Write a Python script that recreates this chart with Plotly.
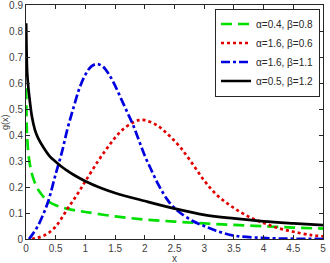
import plotly.graph_objects as go

# alpha=0.4, beta=0.8 (green, dashed)
green_x = [0.003, 0.01, 0.02, 0.05, 0.1, 0.18, 0.25, 0.35, 0.5, 0.7, 1.0, 1.5, 2.0, 2.5, 3.0, 3.5, 4.0, 4.5, 5.0]
green_y = [0.58, 0.46, 0.39, 0.31, 0.25, 0.2, 0.175, 0.149, 0.13, 0.116, 0.104, 0.087, 0.075, 0.067, 0.06, 0.054, 0.049, 0.044, 0.04]

# alpha=1.6, beta=0.6 (red, dotted)
red_x = [0.1, 0.2, 0.3, 0.4, 0.5, 0.6, 0.7, 0.8, 0.9, 1.0, 1.2, 1.4, 1.6, 1.8, 1.9, 2.0, 2.2, 2.4, 2.6, 2.8, 3.0, 3.2, 3.4, 3.6, 3.8, 4.0, 4.2, 4.5, 4.8, 5.0]
red_y = [0.0, 0.005, 0.013, 0.027, 0.048, 0.08, 0.117, 0.15, 0.185, 0.222, 0.295, 0.36, 0.415, 0.448, 0.457, 0.457, 0.438, 0.4, 0.352, 0.29, 0.225, 0.172, 0.135, 0.105, 0.08, 0.062, 0.045, 0.028, 0.015, 0.01]

# alpha=1.6, beta=1.1 (blue, dash-dot)
blue_x = [0.05, 0.1, 0.2, 0.3, 0.38, 0.5, 0.6, 0.7, 0.8, 0.9, 1.0, 1.1, 1.2, 1.3, 1.4, 1.5, 1.6, 1.7, 1.8, 1.9, 2.0, 2.1, 2.2, 2.3, 2.4, 2.5, 2.6, 2.8, 3.0, 3.2, 3.5, 4.0, 4.5, 5.0]
blue_y = [0.0, 0.015, 0.05, 0.1, 0.149, 0.25, 0.33, 0.425, 0.505, 0.58, 0.632, 0.664, 0.673, 0.662, 0.632, 0.59, 0.54, 0.49, 0.44, 0.38, 0.32, 0.27, 0.222, 0.18, 0.145, 0.12, 0.1, 0.07, 0.05, 0.032, 0.013, 0.004, 0.001, 0.0]

# alpha=0.5, beta=1.2 (black, solid)
black_x = [0.003, 0.01, 0.02, 0.04, 0.07, 0.1, 0.15, 0.2, 0.3, 0.4, 0.5, 0.6, 0.7, 0.8, 1.0, 1.25, 1.5, 2.0, 2.5, 3.0, 3.5, 4.0, 4.5, 5.0]
black_y = [0.83, 0.72, 0.64, 0.58, 0.52, 0.47, 0.42, 0.39, 0.35, 0.318, 0.297, 0.278, 0.262, 0.247, 0.222, 0.197, 0.177, 0.146, 0.117, 0.093, 0.079, 0.068, 0.06, 0.053]

labels = ["α=0.4, β=0.8", "α=1.6, β=0.6", "α=1.6, β=1.1", "α=0.5, β=1.2"]

x_ticks = [0, 0.5, 1, 1.5, 2, 2.5, 3, 3.5, 4, 4.5, 5]
y_ticks = [0, 0.1, 0.2, 0.3, 0.4, 0.5, 0.6, 0.7, 0.8, 0.9]

fig = go.Figure()
fig.add_trace(go.Scatter(x=green_x, y=green_y, mode="lines", name=labels[0],
                         line=dict(color="#00e000", width=2.7, dash="11px,6px"), line_shape="spline"))
fig.add_trace(go.Scatter(x=red_x, y=red_y, mode="lines", name=labels[1],
                         line=dict(color="#e00000", width=2.7, dash="dot"), line_shape="spline"))
fig.add_trace(go.Scatter(x=blue_x, y=blue_y, mode="lines", name=labels[2],
                         line=dict(color="#0000e0", width=2.7, dash="dashdot"), line_shape="spline"))
fig.add_trace(go.Scatter(x=black_x, y=black_y, mode="lines", name=labels[3],
                         line=dict(color="black", width=2.7), line_shape="spline"))

axis_common = dict(showgrid=False, zeroline=False, showline=True, linecolor="#262626", linewidth=1,
                   mirror="ticks", ticks="inside", ticklen=4, tickcolor="#262626", automargin=False,
                   ticklabeloverflow="allow",
                   tickfont=dict(size=10, color="#404040", family="Liberation Sans"))

fig.update_xaxes(range=[0, 5], tickvals=x_ticks, ticktext=[f"{v:g}" for v in x_ticks], **axis_common)
fig.update_yaxes(range=[0, 0.9], tickvals=y_ticks, ticktext=[f"{v:g}" for v in y_ticks], **axis_common)

fig.add_annotation(text="x", xref="paper", yref="paper", x=0.5, y=0, xanchor="center", yanchor="top",
                   yshift=-13, borderpad=0, showarrow=False,
                   font=dict(size=10, color="#404040", family="Liberation Sans"))
fig.add_annotation(text="g(x)", xref="paper", yref="paper", x=0, y=0.5, xanchor="center", yanchor="middle",
                   xshift=-21, textangle=-90, showarrow=False,
                   font=dict(size=9, color="#404040", family="Liberation Sans"))

fig.update_layout(
    width=330, height=263,
    margin=dict(l=26, r=7, t=5, b=24),
    paper_bgcolor="white", plot_bgcolor="white",
    font=dict(family="Liberation Sans", size=10, color="#262626"),
    legend=dict(x=0.99, y=0.985, xanchor="right", yanchor="top",
                bordercolor="#262626", borderwidth=1, bgcolor="white",
                font=dict(size=10, color="#262626"), itemwidth=30,
                tracegroupgap=0),
)

fig.write_html("out.html")
